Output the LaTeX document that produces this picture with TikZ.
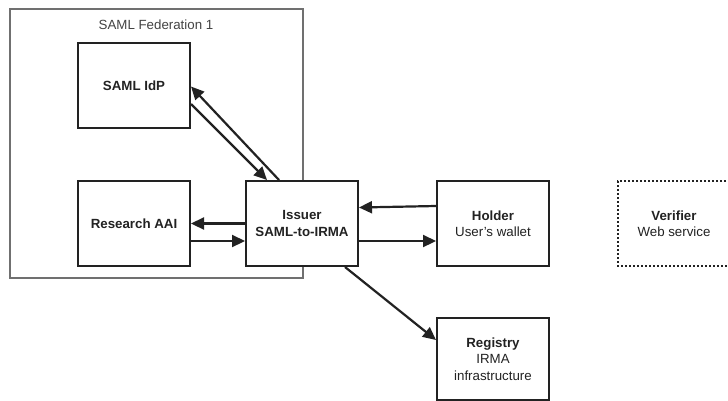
\documentclass[tikz,border=0pt]{standalone}
\usepackage{fontspec}
\setmainfont{Liberation Sans}
\usetikzlibrary{arrows.meta,calc}
\definecolor{ink}{HTML}{222222}
\definecolor{fedline}{HTML}{707070}
\begin{document}
\begin{tikzpicture}[x=1pt,y=-1pt,
  box/.style={draw=ink,fill=white,line width=2pt,minimum width=112pt,minimum height=85pt,inner sep=0pt,align=center,text=ink,font=\fontsize{13.3}{16.5}\selectfont},
  arr/.style={draw=ink,line width=2.2pt,-{Triangle[length=13pt,width=12pt]}}]
\useasboundingbox (0,0) rectangle (728,400);
\fill[white] (0,0) rectangle (728,400);
\node[draw=fedline,line width=1.4pt,minimum width=293pt,minimum height=269pt,inner sep=0pt] (fed) at (156.5,143.5) {};
\node[text=ink!85,font=\fontsize{13.3}{16}\selectfont] (fedlabel) at (156,25) {SAML Federation 1};
\node[box] (idp) at (134,85.5) {\textbf{SAML IdP}};
\node[box] (aai) at (134,223.5) {\textbf{Research AAI}};
\node[box] (iss) at (302,223.5) {\textbf{Issuer}\\\textbf{SAML-to-IRMA}};
\node[box] (hold) at (493,223.5) {\textbf{Holder}\\User's wallet};
\node[box,draw=none] (ver) at (674,223.5) {\textbf{Verifier}\\Web service};
\draw[ink,line width=2pt,dotted] (730,181) -- (618,181) -- (618,266) -- (730,266);
\node[box,minimum height=82pt] (reg) at (493,359) {\textbf{Registry}\\IRMA\\infrastructure};
\draw[arr] ([yshift=-18.5pt]idp.east) -- ([xshift=-35pt]iss.north);
\draw[arr] ([xshift=-23pt]iss.north) -- ([yshift=-1pt]idp.east);
\draw[arr] (iss.west) -- (aai.east);
\draw[arr] ([yshift=-17.5pt]aai.east) -- ([yshift=-17.5pt]iss.west);
\draw[arr] ([yshift=17.5pt]hold.west) -- ([yshift=16pt]iss.east);
\draw[arr] ([yshift=-17.5pt]iss.east) -- ([yshift=-17.5pt]hold.west);
\draw[arr] ([xshift=43pt]iss.south) -- ([yshift=19pt]reg.west);
\end{tikzpicture}
\end{document}
